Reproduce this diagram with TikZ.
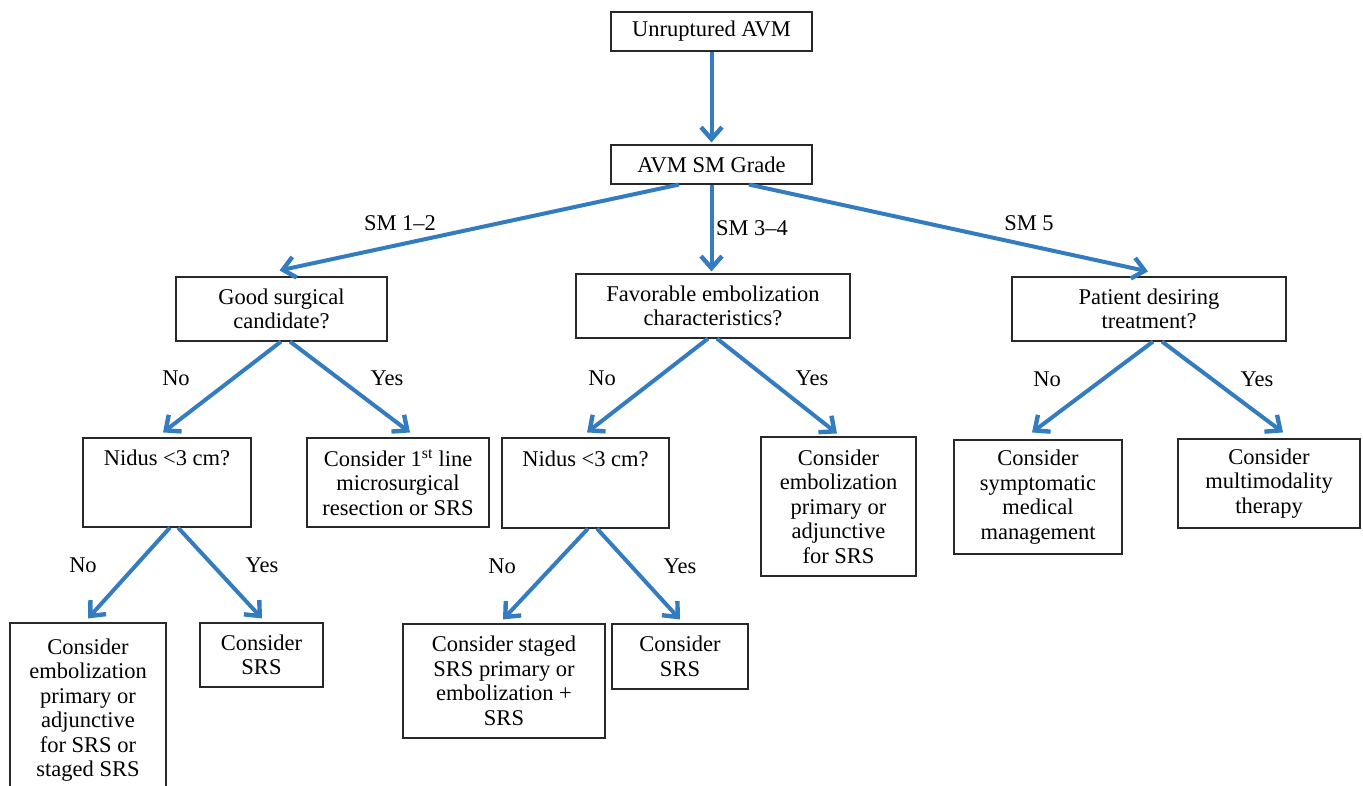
\documentclass[tikz,border=0pt]{standalone}
\usepackage{fontspec}
\setmainfont{Liberation Serif}
\usetikzlibrary{arrows.meta}
\definecolor{arrowblue}{RGB}{52,124,192}
\definecolor{boxline}{RGB}{40,40,40}
\tikzset{
  bx/.style={draw=boxline, line width=1.1pt, align=center, inner sep=0pt,
    font=\fontsize{22.5}{24.5}\selectfont, fill=white},
  lab/.style={font=\fontsize{22.5}{24.5}\selectfont, inner sep=0pt},
  arr/.style={draw=arrowblue, line width=4pt,
    -{Straight Barb[length=12pt,width=21pt,line width=4.4pt]}},
}
\begin{document}
\begin{tikzpicture}[x=1pt,y=-1pt]
\useasboundingbox (0,0) rectangle (1363,785);
\begin{scope}
\clip (0,0) rectangle (1363,785);
\node[bx, minimum width=201pt, minimum height=39pt] (top) at (711.5,31.5) {Unruptured AVM};
\node[bx, minimum width=201pt, minimum height=39pt] (grade) at (711.5,164.5) {AVM SM Grade};
\node[bx, minimum width=211pt, minimum height=64pt] (good) at (281.5,309) {Good surgical\\candidate?};
\node[bx, minimum width=274pt, minimum height=64pt] (fav) at (713,306) {Favorable embolization\\characteristics?};
\node[bx, minimum width=274pt, minimum height=64pt] (pat) at (1149,309) {Patient desiring\\treatment?};
\node[bx, minimum width=168pt, minimum height=89pt] (nid1) at (167,482.5) {Nidus <3 cm?\\\mbox{}\\\mbox{}};
\node[bx, minimum width=182pt, minimum height=89pt] (first) at (398,482.5) {Consider 1\textsuperscript{st} line\\microsurgical\\resection or SRS};
\node[bx, minimum width=167pt, minimum height=90pt] (nid2) at (585.5,483) {Nidus <3 cm?\\\mbox{}\\\mbox{}};
\node[bx, minimum width=155pt, minimum height=139pt] (embm) at (838.5,506.5) {Consider\\embolization\\primary or\\adjunctive\\for SRS};
\node[bx, minimum width=168pt, minimum height=114pt] (symp) at (1038,497) {Consider\\symptomatic\\medical\\management};
\node[bx, minimum width=182pt, minimum height=89pt] (multi) at (1269,483.5) {Consider\\multimodality\\therapy};
\node[bx, minimum width=156pt, minimum height=174pt] (embl) at (88,710) {Consider\\embolization\\primary or\\adjunctive\\for SRS or\\staged SRS};
\node[bx, minimum width=123pt, minimum height=64pt] (srs1) at (261.5,655) {Consider\\SRS};
\node[bx, minimum width=202pt, minimum height=114pt] (stag) at (504,681) {Consider staged\\SRS primary or\\embolization +\\SRS};
\node[bx, minimum width=136pt, minimum height=65pt] (srs2) at (680,656.5) {Consider\\SRS};
\end{scope}

\draw[arr] (top.south) -- ([yshift=2pt]grade.north);
\draw[arr] ([xshift=-32.5pt]grade.south) -- ([xshift=-2pt,yshift=6pt]good.north);
\draw[arr] (grade.south) -- ([yshift=2pt]grade.south |- fav.north);
\draw[arr] ([xshift=37.5pt]grade.south) -- ([xshift=-1pt,yshift=5pt]pat.north);
\draw[arr] ([xshift=-0.5pt]good.south) -- ([xshift=-4pt,yshift=5pt]nid1.north);
\draw[arr] ([xshift=8.5pt]good.south) -- ([xshift=12pt,yshift=5pt]first.north);
\draw[arr] ([xshift=-5pt]fav.south) -- ([xshift=1.5pt,yshift=5pt]nid2.north);
\draw[arr] ([xshift=4pt]fav.south) -- ([xshift=-1.5pt,yshift=3pt]embm.north);
\draw[arr] ([xshift=4pt]pat.south) -- ([xshift=-6pt,yshift=7pt]symp.north);
\draw[arr] ([xshift=13pt]pat.south) -- ([xshift=14pt,yshift=6pt]multi.north);
\draw[arr] ([xshift=3pt]nid1.south) -- ([yshift=4pt]embl.north);
\draw[arr] ([xshift=11pt]nid1.south) -- ([xshift=0.5pt,yshift=4pt]srs1.north);
\draw[arr] ([xshift=2.5pt]nid2.south) -- ([xshift=-1pt,yshift=4pt]stag.north);
\draw[arr] ([xshift=11.5pt]nid2.south) -- ([yshift=4pt]srs2.north);

\node[lab] (l12) at (400,223) {SM 1–2};
\node[lab] (l34) at (752,228) {SM 3–4};
\node[lab] (l5) at (1029,223) {SM 5};
\node[lab] (n1) at (176,378) {No};
\node[lab] (y1) at (387,378) {Yes};
\node[lab] (n2) at (602,378) {No};
\node[lab] (y2) at (812,378) {Yes};
\node[lab] (n3) at (1047,379) {No};
\node[lab] (y3) at (1257,379) {Yes};
\node[lab] (n4) at (83,565) {No};
\node[lab] (y4) at (262,565) {Yes};
\node[lab] (n5) at (502,566) {No};
\node[lab] (y5) at (680,566) {Yes};
\end{tikzpicture}
\end{document}
